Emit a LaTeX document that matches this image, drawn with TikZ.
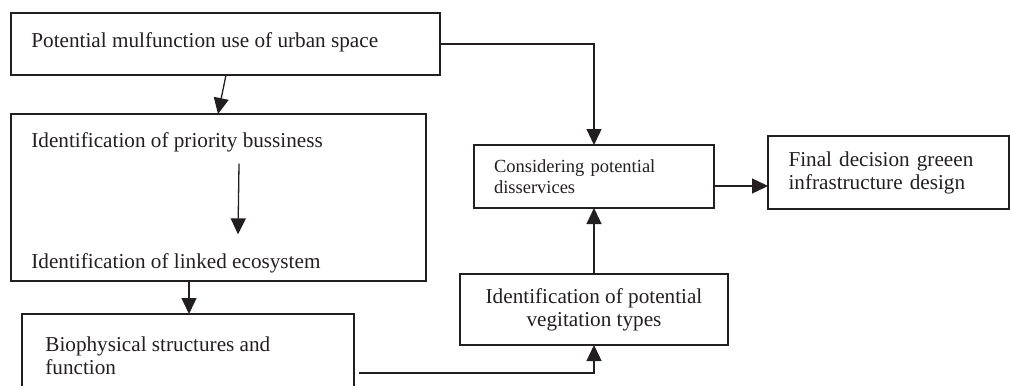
\documentclass[tikz,border=0pt]{standalone}
\usepackage{fontspec}
\setmainfont{Liberation Serif}
\usetikzlibrary{arrows.meta}
\definecolor{ink}{RGB}{35,31,32}

\begin{document}
\begin{tikzpicture}[x=0.5pt, y=-0.5pt,
    every node/.style={font=\fontsize{10.6}{11.5}\selectfont, text=ink},
    box/.style={draw=ink, line width=0.65pt, inner sep=0pt, outer sep=0pt},
    lbl/.style={inner sep=0pt, anchor=west},
    arr/.style={draw=ink, line width=0.65pt, -{Triangle[length=8pt, width=7.5pt]}}]
    \useasboundingbox (0,0) rectangle (1010,385);

    % boxes (pixel coordinates, y down)
    \node[box, minimum width=214.5pt, minimum height=31pt] (b1) at (225.5,44) {};
    \node[box, minimum width=207.5pt, minimum height=83.5pt] (b2) at (218.5,197.5) {};
    \node[box, minimum width=166pt, minimum height=38pt] (b3) at (188,352) {};
    \node[box, minimum width=134pt, minimum height=35.5pt, align=center] (b4) at (594,309.5)
        {Identification of potential\\vegitation types};
    \node[box, minimum width=120pt, minimum height=31.5pt, text width=100pt, align=left,
        font=\fontsize{9.25}{10.5}\selectfont] (b5) at (594,176.5)
        {Considering potential\\disservices};
    \node[box, minimum width=120.5pt, minimum height=36.5pt, text width=100pt, align=left] (b6) at (888.5,172.5)
        {Final decision greeen\\infrastructure design};

    % texts inside the left boxes
    \node[lbl] (t1) at (31,42) {Potential mulfunction use of urban space};
    \node[lbl] (t2) at (31,142) {Identification of priority bussiness};
    \node[lbl] (t3) at (31,263) {Identification of linked ecosystem};
    \node[lbl, align=left] (t4) at (45,356) {Biophysical structures and\\function};

    % arrows
    \draw[arr] ([xshift=107.5pt]b1.south west) -- ([xshift=103.5pt]b2.north west);
    \draw[arr] ([xshift=104pt,yshift=-5.75pt]t2.south west) -- ([xshift=103.5pt,yshift=9.25pt]t3.north west);
    \draw[arr] ([xshift=89pt]b2.south west) -- ([xshift=83.5pt]b3.north west);
    \draw[arr] ([xshift=2.5pt,yshift=-10.5pt]b3.east) -| (b4.south);
    \draw[arr] (b4.north) -- (b5.south);
    \draw[arr] ([yshift=-4.75pt]b5.east) -- ([yshift=-4.75pt]b5.east -| b6.west);
    \draw[arr] (b1.east) -| (b5.north);
\end{tikzpicture}
\end{document}
